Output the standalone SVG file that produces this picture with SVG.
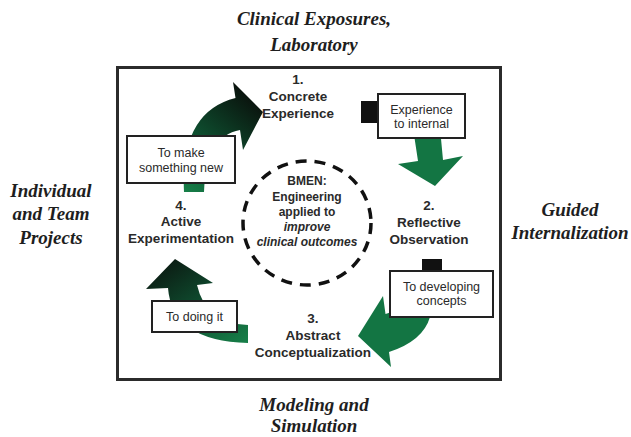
<svg xmlns="http://www.w3.org/2000/svg" width="631" height="437" viewBox="0 0 631 437">
  <defs>
    <style>
      .ctx { font-family: "Liberation Serif", "Times New Roman", serif; font-weight: bold; font-style: italic; font-size: 19px; fill: #1e1e1e; text-anchor: middle; }
      .stage { font-family: "Liberation Sans", Arial, sans-serif; font-weight: bold; font-size: 13.5px; fill: #2a2a2a; text-anchor: middle; }
      .core { font-family: "Liberation Sans", Arial, sans-serif; font-weight: bold; font-size: 12px; fill: #2a2a2a; text-anchor: middle; }
      .core-it { font-style: italic; }
      .tag { font-family: "Liberation Sans", Arial, sans-serif; font-size: 12.5px; fill: #2a2a2a; text-anchor: middle; }
      .tagbox { fill: #ffffff; stroke: #222222; stroke-width: 2; }
      .tab { fill: #111111; }
      .flow { stroke: none; }
    </style>
    <linearGradient id="gradUp" x1="0" y1="1" x2="0.6" y2="0">
      <stop offset="0" stop-color="#178049"/>
      <stop offset="0.45" stop-color="#0e5030"/>
      <stop offset="1" stop-color="#0a140e"/>
    </linearGradient>
    <linearGradient id="gradLeft" x1="1" y1="1" x2="0.2" y2="0">
      <stop offset="0" stop-color="#178049"/>
      <stop offset="0.5" stop-color="#0f4e30"/>
      <stop offset="1" stop-color="#0b1a12"/>
    </linearGradient>
  </defs>

  <rect x="0" y="0" width="631" height="437" fill="#ffffff"/>

  <!-- outer frame -->
  <rect id="frame" x="117.5" y="67.5" width="383" height="312" fill="none" stroke="#2b2b2b" stroke-width="3"/>

  <!-- context labels around the frame -->
  <g id="ctx-top">
    <text class="ctx" x="314" y="25">Clinical Exposures,</text>
    <text class="ctx" x="314" y="51">Laboratory</text>
  </g>
  <g id="ctx-left">
    <text class="ctx" x="51" y="197">Individual</text>
    <text class="ctx" x="51" y="220">and Team</text>
    <text class="ctx" x="51" y="244">Projects</text>
  </g>
  <g id="ctx-right">
    <text class="ctx" x="570" y="216">Guided</text>
    <text class="ctx" x="570" y="239">Internalization</text>
  </g>
  <g id="ctx-bottom">
    <text class="ctx" x="314" y="411">Modeling and</text>
    <text class="ctx" x="314" y="432">Simulation</text>
  </g>

  <!-- cycle arrows with their transition tags -->
  <g id="connectors">
    <!-- 4 -> 1 -->
    <path class="flow" fill="url(#gradUp)" d="M184,192 Q180,112 235.5,98 L233,82 L263,112 L243,150 L240,130 Q206,136 204,192 Z"/>
    <!-- 1 -> 2 -->
    <path class="flow" fill="#137543" d="M413,128 L440,128 L443,160 L463,156 L435,186 L398,164 L418,161 Z"/>
    <!-- 2 -> 3 -->
    <path class="flow" fill="#137543" d="M400,300 L430,300 L430,317 Q423,341 389,352 L391,367 L358,336 L383,296 L385.5,314 Q398,312 400,300 Z"/>
    <!-- 3 -> 4 -->
    <path class="flow" fill="url(#gradLeft)" d="M168,288 Q172,341 248,343 L248,325 Q206,324 197,285 L213,283 L175,259 L146,289 Z"/>

    <g id="tag-make">
      <rect class="tagbox" x="127" y="136" width="108" height="47"/>
      <text class="tag" x="181" y="157">To make</text>
      <text class="tag" x="181" y="172">something new</text>
    </g>
    <g id="tag-internal">
      <rect class="tab" x="361" y="101" width="17" height="22"/>
      <rect class="tagbox" x="378" y="94" width="87" height="44"/>
      <text class="tag" x="421.5" y="114">Experience</text>
      <text class="tag" x="421.5" y="128">to internal</text>
    </g>
    <g id="tag-concepts">
      <rect class="tab" x="422" y="259" width="20" height="12"/>
      <rect class="tagbox" x="390" y="271" width="103" height="46"/>
      <text class="tag" x="441.5" y="291">To developing</text>
      <text class="tag" x="441.5" y="305">concepts</text>
    </g>
    <g id="tag-doing">
      <rect class="tagbox" x="152" y="301" width="85" height="31"/>
      <text class="tag" x="194.5" y="321">To doing it</text>
    </g>
  </g>

  <!-- cycle stages -->
  <g id="stage-1">
    <text class="stage" x="298" y="84">1.</text>
    <text class="stage" x="298" y="101">Concrete</text>
    <text class="stage" x="298" y="118">Experience</text>
  </g>
  <g id="stage-2">
    <text class="stage" x="429" y="210">2.</text>
    <text class="stage" x="429" y="227">Reflective</text>
    <text class="stage" x="429" y="244">Observation</text>
  </g>
  <g id="stage-3">
    <text class="stage" x="313" y="323">3.</text>
    <text class="stage" x="313" y="340">Abstract</text>
    <text class="stage" x="313" y="357">Conceptualization</text>
  </g>
  <g id="stage-4">
    <text class="stage" x="181" y="210">4.</text>
    <text class="stage" x="181" y="226">Active</text>
    <text class="stage" x="181" y="243">Experimentation</text>
  </g>

  <!-- central theme -->
  <g id="core">
    <ellipse cx="307" cy="223" rx="64" ry="62" fill="none" stroke="#111111" stroke-width="3.5" stroke-dasharray="11 8"/>
    <text class="core" x="307" y="185">BMEN:</text>
    <text class="core" x="307" y="201">Engineering</text>
    <text class="core" x="307" y="216">applied to</text>
    <text class="core core-it" x="307" y="231">improve</text>
    <text class="core core-it" x="307" y="246">clinical outcomes</text>
  </g>
</svg>
